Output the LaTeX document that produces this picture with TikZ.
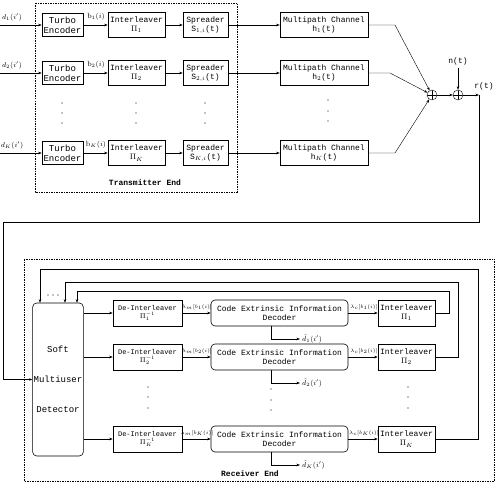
\documentclass[tikz,border=0pt]{standalone}
\usepackage{fontspec}
\setmonofont{Liberation Mono}
\usepackage{amsmath}
\usetikzlibrary{arrows.meta, positioning, calc}

\begin{document}
\begin{tikzpicture}[x=1pt, y=-1pt,
    every node/.style={font=\fontsize{8}{9}\selectfont\ttfamily, align=center},
    blk/.style={draw, semithick, minimum height=25pt, inner sep=1pt},
    rblk/.style={blk, rounded corners=4pt},
    lbl/.style={font=\fontsize{7.5}{8}\selectfont, inner sep=0pt},
    tiny/.style={font=\fontsize{5.5}{6}\selectfont, inner sep=0pt},
    sumnode/.style={draw, circle, minimum size=10pt, inner sep=0pt,
        path picture={\draw (path picture bounding box.north) -- (path picture bounding box.south)
                            (path picture bounding box.west) -- (path picture bounding box.east);}},
    frame/.style={draw, thin, dash pattern=on 1.5pt off 1pt},
    arr/.style={-{Stealth[length=3.5pt, width=2.5pt]}, thin}
]
\useasboundingbox (0,0) rectangle (500,484);

% transmitter end
\draw[frame] (35,3) rectangle (237,192);
\node[font=\fontsize{8}{9}\selectfont\ttfamily\bfseries] (txend) at (145,183) {Transmitter End};

\foreach \k/\y/\s in {1/25/1, 2/73/2, 3/153/K} {
    \coordinate (in\k) at (0,\y);
    \node[lbl] (d\k) at (12,\y-8) {$d_{\s}(i')$};
    \node[blk, font=\fontsize{9}{10}\selectfont\ttfamily, minimum width=41pt, minimum height=23pt] (enc\k) at (62.5,\y) {Turbo\\Encoder};
    \node[lbl] (b\k) at (96,\y-8) {$\mathrm{b}_{\s}(i)$};
    \node[blk, minimum width=57pt] (il\k) at (136.5,\y) {Interleaver\\$\Pi_{\s}$};
    \node[blk, minimum width=45pt] (spr\k) at (205.5,\y) {Spreader\\S$_{\s,i}$(t)};
    \node[blk, minimum width=88pt] (ch\k) at (324,\y) {Multipath Channel\\h$_{\s}$(t)};
    \draw[arr] (in\k) -- (enc\k);
    \draw[arr] (enc\k) -- (il\k);
    \draw[arr] (il\k) -- (spr\k);
    \draw[arr] (spr\k) -- (ch\k);
}

% vertical dots
\foreach \x in {62, 136, 205} {
    \foreach \y in {103, 113, 123} \fill (\x,\y) circle (0.7pt);
}
\foreach \y in {100, 111, 121} \fill (328,\y) circle (0.7pt);

% combining
\node[sumnode] (sum1) at (432,95) {};
\node[sumnode] (sum2) at (458,95) {};
\coordinate (k1) at (395,25);
\coordinate (k2) at (390,73);
\coordinate (k3) at (395,153);
\draw[arr] (ch1.east) -- (k1) -- (sum1);
\draw[arr] (ch2.east) -- (k2) -- (sum1);
\draw[arr] (ch3.east) -- (k3) -- (sum1);
\draw[arr] (sum1) -- (sum2);
\node (noise) at (458,61) {n(t)};
\draw[arr] (noise) -- (sum2);
\node (rt) at (484,86) {r(t)};
\coordinate (rcorner) at (479,95);
\coordinate (rdown) at (479,222);
\coordinate (rleft) at (3,222);
\draw[arr] (sum2) -- (rcorner);

% receiver end
\draw[frame] (24,259) rectangle (494,481);
\node[font=\fontsize{8}{9}\selectfont\ttfamily\bfseries] (rxend) at (250,474) {Receiver End};

\node[rblk, font=\fontsize{9}{10}\selectfont\ttfamily, minimum width=50pt, minimum height=153pt] (mud) at (58,379.5)
    {Soft\\[20pt]Multiuser\\[20pt]Detector};
\draw[arr, semithick] (rcorner) -- (rdown) -- (rleft) |- (mud.west);

\foreach \k/\y/\s in {1/313/1, 2/357/2, 3/439/K} {
    \node[blk, font=\fontsize{7}{8}\selectfont\ttfamily, minimum width=69pt, minimum height=26pt] (deil\k) at (147.5,\y) {De-Interleaver\\$\Pi_{\s}^{-1}$};
    \node[rblk, minimum width=137pt, minimum height=26pt] (dec\k) at (279.5,\y) {Code Extrinsic Information\\Decoder};
    \node[blk, minimum width=57pt, minimum height=26pt] (iil\k) at (406.5,\y) {Interleaver\\$\Pi_{\s}$};
    \node[tiny] (lm\k) at (197,\y-6) {$\lambda_m[b_{\s}(i)]$};
    \node[tiny] (lc\k) at (364,\y-6) {$\lambda_c[b_{\s}(i)]$};
    \node[lbl, anchor=west, inner sep=2pt] (dhat\k) at (300,\y+26) {$\hat{d}_{\s}(i')$};
    \draw[arr] (deil\k.west -| mud.east) -- (deil\k);
    \draw[arr] (deil\k) -- (dec\k);
    \draw[arr] (dec\k) -- (iil\k);
    \draw[arr] ([xshift=-8.5pt]dec\k.south) |- (dhat\k.west);
}

% feedback to the detector
\coordinate (fb1) at (449,291);
\coordinate (fb2) at (458,282);
\coordinate (fb3) at (478,269);
\draw[arr] (iil1.east) -| (fb1) -| ([xshift=19pt]mud.north);
\draw[arr] (iil2.east) -| (fb2) -| ([xshift=7pt]mud.north);
\draw[arr] (iil3.east) -| (fb3) -| ([xshift=-18pt]mud.north);
\foreach \x in {48, 53, 58} \fill (\x,295) circle (0.6pt);

% vertical dots
\foreach \x in {148, 408} {
    \foreach \y in {387, 397, 408} \fill (\x,\y) circle (0.7pt);
}
\foreach \y in {389, 400, 410} \fill (271,\y) circle (0.7pt);
\end{tikzpicture}
\end{document}
